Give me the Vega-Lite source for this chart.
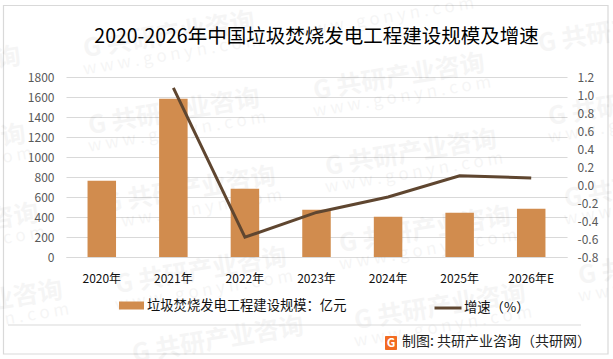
{"$schema":"https://vega.github.io/schema/vega-lite/v6.json","width":501,"height":180,"autosize":"none","padding":{"left":66,"top":77,"right":46,"bottom":102},"background":"white",
"config":{"font":"Noto Sans CJK SC","view":{"stroke":null}},
"data":{"values":[{"year":"2020年","scale":763,"growth":null},{"year":"2021年","scale":1583,"growth":1.08},{"year":"2022年","scale":683,"growth":-0.58},{"year":"2023年","scale":473,"growth":-0.305},{"year":"2024年","scale":403,"growth":-0.133},{"year":"2025年","scale":443,"growth":0.103},{"year":"2026年E","scale":483,"growth":0.078}]},
"layer":[
{"data":{"values":[{}]},"mark":{"type":"rect","fill":"transparent","stroke":"#d9d9d9","strokeWidth":1.2},"encoding":{"x":{"value":-62.5},"x2":{"value":542},"y":{"value":-71.5},"y2":{"value":277}}},
{"data":{"values":[{}]},"mark":{"type":"text","text":"G 共研产业咨询","x":103,"y":-42,"angle":-9.5,"fontSize":25,"fontWeight":"bold","fill":"#000","opacity":0.035}},
{"data":{"values":[{}]},"mark":{"type":"text","text":"G 共研产业咨询","x":108,"y":35,"angle":-9.5,"fontSize":25,"fontWeight":"bold","fill":"#000","opacity":0.035}},
{"data":{"values":[{}]},"mark":{"type":"text","text":"G 共研产业咨询","x":124,"y":113,"angle":-9.5,"fontSize":25,"fontWeight":"bold","fill":"#000","opacity":0.035}},
{"data":{"values":[{}]},"mark":{"type":"text","text":"G 共研产业咨询","x":135,"y":194,"angle":-9.5,"fontSize":25,"fontWeight":"bold","fill":"#000","opacity":0.035}},
{"data":{"values":[{}]},"mark":{"type":"text","text":"G 共研产业咨询","x":152,"y":263,"angle":-9.5,"fontSize":25,"fontWeight":"bold","fill":"#000","opacity":0.035}},
{"data":{"values":[{}]},"mark":{"type":"text","text":"G 共研产业咨询","x":333,"y":0,"angle":-9.5,"fontSize":25,"fontWeight":"bold","fill":"#000","opacity":0.035}},
{"data":{"values":[{}]},"mark":{"type":"text","text":"G 共研产业咨询","x":345,"y":76,"angle":-9.5,"fontSize":25,"fontWeight":"bold","fill":"#000","opacity":0.035}},
{"data":{"values":[{}]},"mark":{"type":"text","text":"G 共研产业咨询","x":359,"y":153,"angle":-9.5,"fontSize":25,"fontWeight":"bold","fill":"#000","opacity":0.035}},
{"data":{"values":[{}]},"mark":{"type":"text","text":"G 共研产业咨询","x":374,"y":230,"angle":-9.5,"fontSize":25,"fontWeight":"bold","fill":"#000","opacity":0.035}},
{"data":{"values":[{}]},"mark":{"type":"text","text":"G 共研产业咨询","x":-131,"y":-7,"angle":-9.5,"fontSize":25,"fontWeight":"bold","fill":"#000","opacity":0.035}},
{"data":{"values":[{}]},"mark":{"type":"text","text":"G 共研产业咨询","x":-126,"y":71,"angle":-9.5,"fontSize":25,"fontWeight":"bold","fill":"#000","opacity":0.035}},
{"data":{"values":[{}]},"mark":{"type":"text","text":"G 共研产业咨询","x":-113,"y":150,"angle":-9.5,"fontSize":25,"fontWeight":"bold","fill":"#000","opacity":0.035}},
{"data":{"values":[{}]},"mark":{"type":"text","text":"G 共研产业咨询","x":-89,"y":227,"angle":-9.5,"fontSize":25,"fontWeight":"bold","fill":"#000","opacity":0.035}},
{"data":{"values":[{}]},"mark":{"type":"text","text":"G 共研产业咨询","x":558,"y":-47,"angle":-9.5,"fontSize":25,"fontWeight":"bold","fill":"#000","opacity":0.035}},
{"data":{"values":[{}]},"mark":{"type":"text","text":"G 共研产业咨询","x":568,"y":26,"angle":-9.5,"fontSize":25,"fontWeight":"bold","fill":"#000","opacity":0.035}},
{"data":{"values":[{}]},"mark":{"type":"text","text":"G 共研产业咨询","x":584,"y":108,"angle":-9.5,"fontSize":25,"fontWeight":"bold","fill":"#000","opacity":0.035}},
{"data":{"values":[{}]},"mark":{"type":"text","text":"G 共研产业咨询","x":598,"y":185,"angle":-9.5,"fontSize":25,"fontWeight":"bold","fill":"#000","opacity":0.035}},
{"data":{"values":[{}]},"mark":{"type":"text","text":"w w w . g o n y n . c o m","x":106,"y":-22,"angle":-9.5,"fontSize":17,"fill":"#000","opacity":0.035}},
{"data":{"values":[{}]},"mark":{"type":"text","text":"w w w . g o n y n . c o m","x":111,"y":55,"angle":-9.5,"fontSize":17,"fill":"#000","opacity":0.035}},
{"data":{"values":[{}]},"mark":{"type":"text","text":"w w w . g o n y n . c o m","x":127,"y":133,"angle":-9.5,"fontSize":17,"fill":"#000","opacity":0.035}},
{"data":{"values":[{}]},"mark":{"type":"text","text":"w w w . g o n y n . c o m","x":138,"y":214,"angle":-9.5,"fontSize":17,"fill":"#000","opacity":0.035}},
{"data":{"values":[{}]},"mark":{"type":"text","text":"w w w . g o n y n . c o m","x":319,"y":-59,"angle":-9.5,"fontSize":17,"fill":"#000","opacity":0.035}},
{"data":{"values":[{}]},"mark":{"type":"text","text":"w w w . g o n y n . c o m","x":336,"y":20,"angle":-9.5,"fontSize":17,"fill":"#000","opacity":0.035}},
{"data":{"values":[{}]},"mark":{"type":"text","text":"w w w . g o n y n . c o m","x":348,"y":96,"angle":-9.5,"fontSize":17,"fill":"#000","opacity":0.035}},
{"data":{"values":[{}]},"mark":{"type":"text","text":"w w w . g o n y n . c o m","x":362,"y":173,"angle":-9.5,"fontSize":17,"fill":"#000","opacity":0.035}},
{"data":{"values":[{}]},"mark":{"type":"text","text":"w w w . g o n y n . c o m","x":377,"y":250,"angle":-9.5,"fontSize":17,"fill":"#000","opacity":0.035}},
{"data":{"values":[{}]},"mark":{"type":"text","text":"w w w . g o n y n . c o m","x":-123,"y":91,"angle":-9.5,"fontSize":17,"fill":"#000","opacity":0.035}},
{"data":{"values":[{}]},"mark":{"type":"text","text":"w w w . g o n y n . c o m","x":-110,"y":170,"angle":-9.5,"fontSize":17,"fill":"#000","opacity":0.035}},
{"data":{"values":[{}]},"mark":{"type":"text","text":"w w w . g o n y n . c o m","x":-86,"y":247,"angle":-9.5,"fontSize":17,"fill":"#000","opacity":0.035}},
{"data":{"values":[{}]},"mark":{"type":"text","text":"w w w . g o n y n . c o m","x":571,"y":46,"angle":-9.5,"fontSize":17,"fill":"#000","opacity":0.035}},
{"data":{"values":[{}]},"mark":{"type":"text","text":"w w w . g o n y n . c o m","x":587,"y":128,"angle":-9.5,"fontSize":17,"fill":"#000","opacity":0.035}},
{"data":{"values":[{}]},"mark":{"type":"text","text":"w w w . g o n y n . c o m","x":601,"y":205,"angle":-9.5,"fontSize":17,"fill":"#000","opacity":0.035}},
{"mark":{"type":"bar","size":28.5},
"encoding":{"x":{"field":"year","type":"nominal","sort":null,"scale":{"paddingInner":0,"paddingOuter":0},"axis":{"title":null,"labelAngle":0,"labelFontSize":12,"labelColor":"#111111","labelPadding":16,"ticks":false,"domainColor":"#d9d9d9","domainWidth":1.2,"grid":false}},
"y":{"field":"scale","type":"quantitative","scale":{"domain":[0,1800],"nice":false},"axis":{"title":null,"values":[0,200,400,600,800,1000,1200,1400,1600,1800],"format":"d","labelFontSize":12,"labelColor":"#595959","labelPadding":12,"ticks":false,"domain":false,"grid":true,"gridColor":"#d9d9d9","gridWidth":1.2}},
"color":{"datum":"垃圾焚烧发电工程建设规模：亿元","scale":{"range":["#D18C4E"]},"legend":{"title":null,"orient":"none","legendX":53,"legendY":216,"symbolType":"M-1,-0.32H1V0.32H-1Z","symbolSize":625,"symbolStrokeWidth":0,"labelFontSize":13.3,"labelColor":"#111111","labelOffset":3,"labelLimit":300}}}},
{"mark":{"type":"line","strokeWidth":3,"strokeCap":"butt"},
"encoding":{"x":{"field":"year","type":"nominal","sort":null},
"y":{"field":"growth","type":"quantitative","scale":{"domain":[-0.8,1.2],"nice":false},"axis":{"title":null,"orient":"right","values":[-0.8,-0.6,-0.4,-0.2,0,0.2,0.4,0.6,0.8,1.0,1.2],"labelExpr":"replace(format(datum.value,'.1f'),'−','-')","labelFontSize":12,"labelColor":"#595959","labelPadding":10,"ticks":false,"domain":false,"grid":false}},
"stroke":{"datum":"增速（%）","scale":{"range":["#5F4630"]},"legend":{"title":null,"orient":"none","legendX":367,"legendY":216,"symbolType":"stroke","symbolSize":729,"symbolStrokeWidth":3,"labelFontSize":13.3,"labelColor":"#111111","labelOffset":1,"labelLimit":200}}}},
{"data":{"values":[{}]},"mark":{"type":"rule","stroke":"#d9d9d9","strokeWidth":1.2},"encoding":{"x":{"value":-58},"x2":{"value":515},"y":{"value":248}}},
{"data":{"values":[{}]},"mark":{"type":"rect","fill":"#F26B21","cornerRadius":1},"encoding":{"x":{"value":319},"x2":{"value":331},"y":{"value":259},"y2":{"value":273}}},
{"data":{"values":[{}]},"mark":{"type":"text","text":"G","x":325,"y":266,"fontSize":12,"fontWeight":"bold","fill":"#ffffff"}},
{"data":{"values":[{}]},"mark":{"type":"text","text":"制图: 共研产业咨询（共研网）","x":336,"y":265,"align":"left","fontSize":14,"fill":"#222222"}},
{"data":{"values":[{}]},"mark":{"type":"text","text":"2020-2026年中国垃圾焚烧发电工程建设规模及增速","x":250.5,"y":-40,"fontSize":19.5,"fill":"#000000"}}
],
"resolve":{"scale":{"y":"independent","color":"independent","stroke":"independent"}}}
